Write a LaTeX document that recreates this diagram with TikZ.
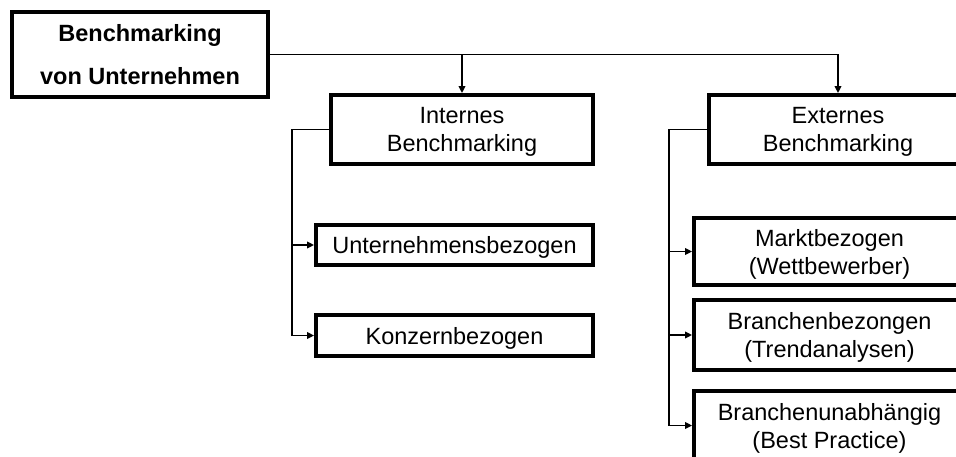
\documentclass[tikz,border=0pt]{standalone}
\usepackage{fontspec}
\setmainfont{Liberation Sans}
\usetikzlibrary{arrows.meta}

\tikzset{
  box/.style={draw=black, line width=3.8pt, fill=white, inner sep=0pt,
    align=center, text depth=0pt,
    font=\fontsize{23.5}{28}\selectfont},
  rootbox/.style={box, text depth=-5pt,
    font=\fontsize{23.5}{43}\selectfont\bfseries},
  link/.style={draw=black, line width=1.8pt},
  arrowlink/.style={link, -{Triangle[length=7pt,width=6.5pt]}},
}

\begin{document}
\begin{tikzpicture}[x=1pt,y=-1pt]
  \useasboundingbox (0,0) rectangle (956,456);
  \clip (0,0) rectangle (956,456);

  % top level
  \node[rootbox, minimum width=256pt, minimum height=85pt] (root) at (140,54.5)
    {Benchmarking\\von Unternehmen};

  % second level
  \node[box, minimum width=262pt, minimum height=69pt] (int) at (462,129.5)
    {Internes\\Benchmarking};
  \node[box, minimum width=258pt, minimum height=69pt] (ext) at (838,129.5)
    {Externes\\Benchmarking};

  % internal benchmarking
  \node[box, minimum width=277pt, minimum height=40pt] (unt) at (454.5,245)
    {Unternehmensbezogen};
  \node[box, minimum width=277pt, minimum height=41pt] (konz) at (454.5,335.5)
    {Konzernbezogen};

  % external benchmarking
  \node[box, minimum width=271pt, minimum height=67pt] (markt) at (829.5,251.5)
    {Marktbezogen\\(Wettbewerber)};
  \node[box, minimum width=271pt, minimum height=70pt] (bran) at (829.5,335)
    {Branchenbezongen\\(Trendanalysen)};
  \node[box, minimum width=271pt, minimum height=69pt] (unab) at (829.5,425.5)
    {Branchenunabhängig\\(Best Practice)};

  % connectors from the top box
  \draw[arrowlink] (root.east) -| (ext.north);
  \draw[arrowlink] (root.east -| int.north) -- (int.north);

  % bus on the internal side
  \coordinate (ibus) at (292,129.5);
  \draw[arrowlink] (int.west) -- (ibus) |- (konz.west);
  \draw[arrowlink] (ibus |- unt.west) -- (unt.west);

  % bus on the external side
  \coordinate (ebus) at (669,129.5);
  \draw[arrowlink] (ext.west) -- (ebus) |- (unab.west);
  \draw[arrowlink] (ebus |- markt.west) -- (markt.west);
  \draw[arrowlink] (ebus |- bran.west) -- (bran.west);
\end{tikzpicture}
\end{document}
